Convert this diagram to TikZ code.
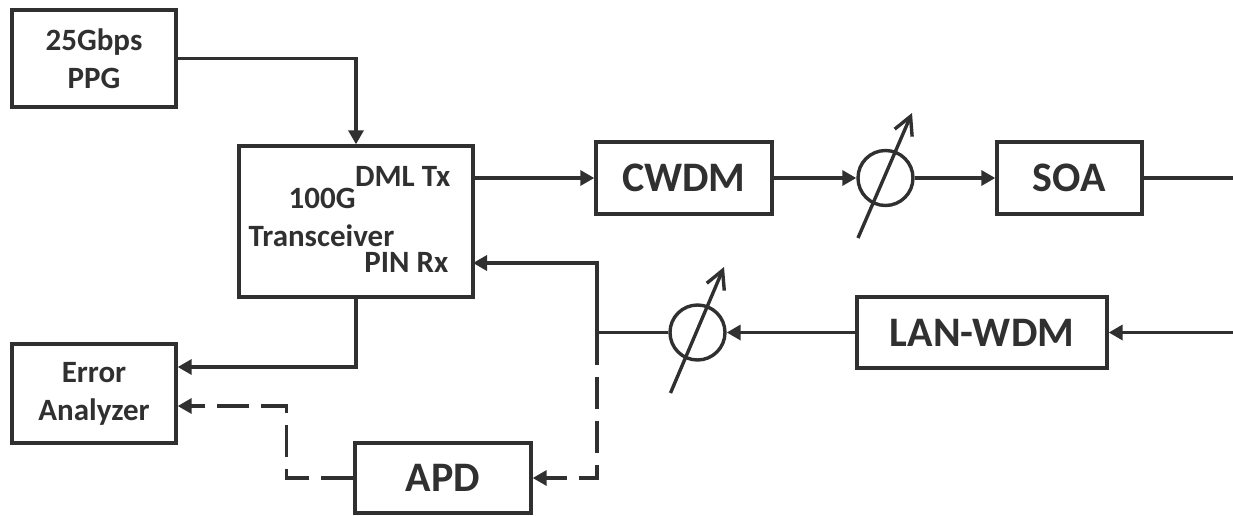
\documentclass[tikz,border=0pt]{standalone}
\usepackage{fontspec}
\setmainfont{Carlito}
\usetikzlibrary{positioning, arrows.meta, calc}
\definecolor{inkgray}{HTML}{303030}

\begin{document}
\begin{tikzpicture}[x=0.5pt, y=-0.5pt, line width=1.7pt, draw=inkgray, text=inkgray,
  blk/.style={draw, rectangle, inner sep=0pt, font=\bfseries\fontsize{21}{25}\selectfont},
  smallblk/.style={blk, align=center, font=\bfseries\fontsize{15.5}{19}\selectfont},
  att/.style={draw, circle, minimum size=27.5pt, inner sep=0pt},
  lbl/.style={inner sep=0pt, font=\bfseries\fontsize{15.5}{19}\selectfont},
  sig/.style={-{Triangle[length=7pt,width=7.5pt]}},
  tune/.style={-{Straight Barb[length=9pt,width=9.5pt]}},
  probe/.style={dash pattern=on 16pt off 6pt}]
  \useasboundingbox (0,0) rectangle (1233,515);
  % blocks
  \node[smallblk, minimum width=82pt, minimum height=48.5pt] (ppg) at (94,58.5) {25Gbps\\PPG};
  \node[blk, minimum width=117pt, minimum height=75.5pt] (trx) at (356,221.5) {};
  \node[blk, minimum width=88pt, minimum height=36pt] (cwdm) at (684,178) {CWDM};
  \node[att] (att1) at (885.5,178) {};
  \node[blk, minimum width=72.5pt, minimum height=36pt] (soa) at (1069.5,178) {SOA};
  \node[blk, minimum width=125pt, minimum height=35.5pt] (lanwdm) at (982,332.5) {LAN-WDM};
  \node[att] (att2) at (697.5,332.5) {};
  \node[smallblk, minimum width=82pt, minimum height=49.5pt] (ea) at (94,393.5) {Error\\Analyzer};
  \node[blk, minimum width=88pt, minimum height=35pt] (apd) at (443,478) {APD};
  % transceiver labels
  \node[lbl, anchor=base east] (txlbl) at (452,186) {DML Tx};
  \node[lbl, anchor=base west] (gbe) at (287,208) {100G};
  \node[lbl, anchor=base west] (trxlbl) at (247,246) {Transceiver};
  \node[lbl, anchor=base east] (rxlbl) at (450,272) {PIN Rx};
  % ports and branch points
  \coordinate (outR) at (1233,178);
  \coordinate (inR) at (1233,332.5);
  \coordinate (split) at (597,332.5);
  \coordinate (rxport) at (473,263);
  % transmit path
  \draw[sig] (ppg.east) -| (trx.north);
  \draw[sig] (trx.east |- cwdm.west) -- (cwdm.west);
  \draw[sig] (cwdm.east) -- (att1.west);
  \draw[sig] (att1.east) -- (soa.west);
  \draw (soa.east) -- (outR);
  % receive path
  \draw[sig] (inR) -- (lanwdm.east);
  \draw[sig] (lanwdm.west) -- (att2.east);
  \draw (att2.west) -- (split);
  \draw[sig] (split) |- (rxport);
  \draw[sig, probe] (split) |- (apd.east);
  \draw[sig] (trx.south) |- ([yshift=13.25pt]ea.east);
  \draw[sig, probe] (apd.west) -- ++(-33.5pt,0) |- ([yshift=-6.25pt]ea.east);
  % variable attenuators
  \draw[tune] ($(att1)+(-27.5,60)$) -- ($(att1)+(26.5,-65)$);
  \draw[tune] ($(att2)+(-27,60.5)$) -- ($(att2)+(26.5,-65.5)$);
\end{tikzpicture}
\end{document}
